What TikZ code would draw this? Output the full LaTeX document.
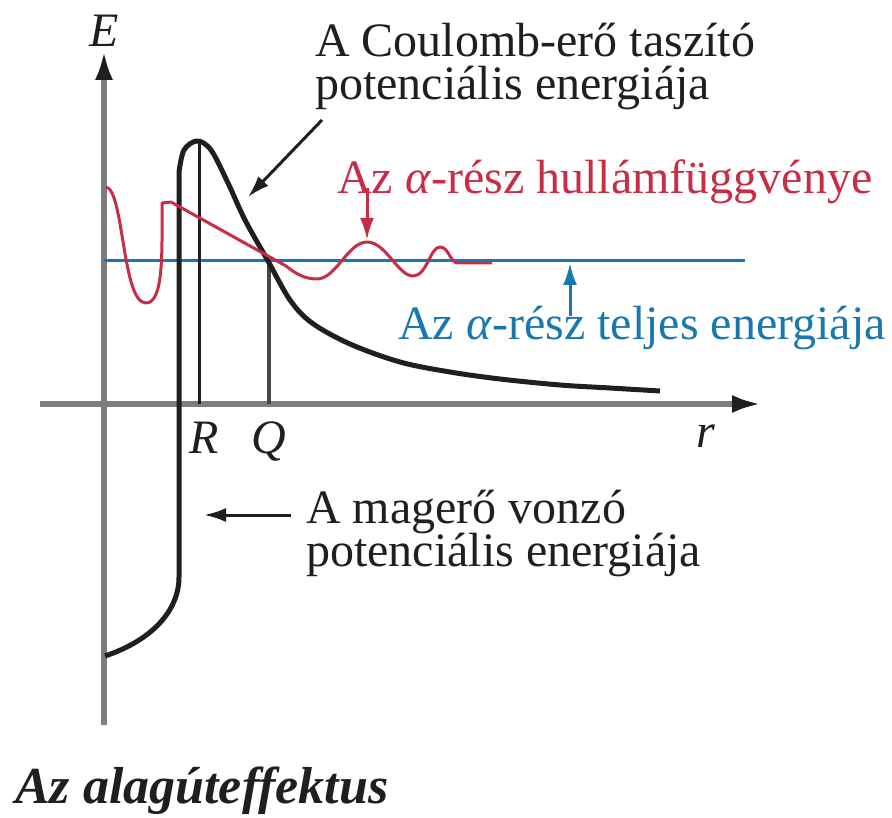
\documentclass[tikz,border=0pt]{standalone}
\usepackage{fontspec}
\setmainfont{Liberation Serif}
\usetikzlibrary{arrows.meta}
\definecolor{wred}{RGB}{200,45,70}
\definecolor{wblue}{RGB}{25,120,175}
\definecolor{axgray}{RGB}{125,125,125}
\definecolor{ink}{RGB}{32,30,30}
\definecolor{wall}{RGB}{70,70,70}
\newcommand{\twolines}[2]{\vtop{\baselineskip=43pt\lineskiplimit=-20pt\hbox{#1}\hbox{#2}}}
\begin{document}
\begin{tikzpicture}[x=1pt,y=-1pt,
  lbl/.style={anchor=base west, inner sep=0pt, text=ink, font=\fontsize{48}{48}\selectfont},
  axis/.style={draw=axgray, line width=6pt},
  axtip/.style={-{Latex[length=30pt,width=18pt,color=ink]}},
  pointer/.style={line width=3pt, -{Latex[length=22pt,width=14pt]}},
  curve/.style={draw=ink, line width=5pt, line join=round},
]
\useasboundingbox (0,0) rectangle (892,818);

% axes
\coordinate (yb) at (104,725);
\coordinate (yt) at (104,50);
\coordinate (xl) at (40,404);
\coordinate (xr) at (762,404);
\draw[axis, axtip] (yb) -- (yt);
\draw[axis, axtip] (xl) -- (xr);

% energy level
\coordinate (el) at (104,261);
\coordinate (er) at (745,261);
\draw[wblue, line width=3pt] (el) -- (er);

% R and Q lines
\coordinate (Rt) at (199,141);
\coordinate (Rb) at (199,404);
\coordinate (Qt) at (269,262);
\coordinate (Qb) at (269,404);
\draw[ink, line width=3pt] (Rt) -- (Rb);
\draw[wall, line width=4pt] (Qt) -- (Qb);

% potential
\draw[curve] (105,656) .. controls (150,641) and (179,612) .. (179,577)
  -- (179,172)
  plot[smooth, tension=0.55] coordinates {(179,172) (184,150) (197,141) (211,150) (228,183) (245,220) (268,261) (290,300) (312,323) (350,344) (400,362) (450,372) (500,379) (560,385) (610,388) (660,391)};

% wave function
\draw[wred, line width=3pt, line join=round]
  (106,187) .. controls (124,190) and (122,303) .. (146,303)
  .. controls (164,303) and (162,250) .. (162,203)
  -- (171,202) -- (286,266)
  .. controls (296,274) and (305,279) .. (317,279)
  .. controls (336,279) and (348,242) .. (367,242)
  .. controls (386,242) and (398,276) .. (413,276)
  .. controls (427,276) and (430,247) .. (440,247)
  .. controls (449,247) and (450,263) .. (458,263)
  -- (492,263);

% labels
\node[lbl] (E) at (89,47) {\textit{E}};
\node[lbl] (R) at (189,453) {\textit{R}};
\node[lbl] (Q) at (251,453) {\textit{Q}};
\node[lbl] (r) at (696,447) {\textit{r}};

\node[lbl] (c1) at (315,57) {\twolines{A Coulomb-erő taszító}{potenciális energiája}};
\node[lbl, text=wred] (w1) at (337,194) {Az \textit{α}-rész hullámfüggvénye};
\node[lbl, text=wblue] (b1) at (398,340) {Az \textit{α}-rész teljes energiája};
\node[lbl] (m1) at (306,523) {\twolines{A magerő vonzó}{potenciális energiája}};
\node[lbl, font=\fontsize{52}{52}\selectfont\bfseries\itshape] (title) at (15,803) {Az alagúteffektus};

% pointers
\coordinate (ca) at (322,120);
\coordinate (ct) at (248,197);
\draw[pointer, ink] (ca) -- (ct);
\coordinate (wa) at (367,188);
\coordinate (wt) at (367,240);
\draw[pointer, wred] (wa) -- (wt);
\coordinate (ba) at (570,316);
\coordinate (bt) at (570,263);
\draw[pointer, wblue] (ba) -- (bt);
\coordinate (ma) at (291,515);
\coordinate (mt) at (204,515);
\draw[pointer, ink] (ma) -- (mt);
\end{tikzpicture}
\end{document}
